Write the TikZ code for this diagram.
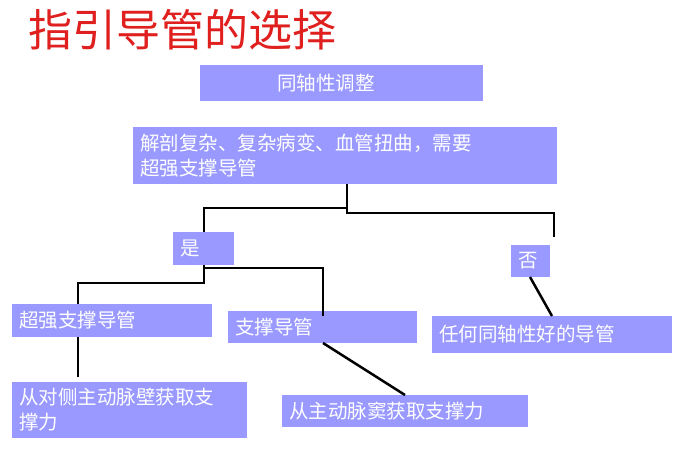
\documentclass[tikz,border=0pt]{standalone}
\usepackage{fontspec}
\setmainfont{Noto Sans CJK SC}
\begin{document}
\begin{tikzpicture}[x=1pt,y=-1pt,
  ln/.style={line width=2.5pt,black}]
\definecolor{boxc}{HTML}{9999FF}
\definecolor{titc}{HTML}{E0201E}
\useasboundingbox[fill=white] (0,0) rectangle (674,456);
\node[anchor=west,text=titc,font=\fontsize{44}{48}\selectfont,inner sep=0pt] (title) at (28,30) {指引导管的选择};
\newcommand{\bx}[6]{\fill[boxc] (#2,#3) rectangle (#4,#5);
  \node[anchor=west,text=white,font=\fontsize{19.5}{25}\selectfont,align=left,inner sep=0pt] (#1) at (#2+7,{(#3+#5)/2}) {#6};}
\fill[boxc] (200,65) rectangle (483,101);
\node[text=white,font=\fontsize{19.5}{22}\selectfont] (b1) at (326,83) {同轴性调整};
\bx{b2}{133}{127}{557}{184}{解剖复杂、复杂病变、血管扭曲，需要\\超强支撑导管}
\bx{yes}{173}{232}{234}{265}{是}
\bx{no}{511}{245}{550}{277}{否}
\bx{s1}{12}{304}{212}{337}{超强支撑导管}
\bx{s2}{228}{311}{417}{343}{支撑导管}
\bx{s3}{432}{316}{672}{353}{任何同轴性好的导管}
\bx{d1}{12}{382}{247}{438}{从对侧主动脉壁获取支\\撑力}
\bx{d2}{282}{395}{528}{427}{从主动脉窦获取支撑力}
\coordinate (a0) at (347,184);
\draw[ln] (a0) -- (347,213) -- (554,213) -- (554,237);
\draw[ln] (347,208) -- (204,208) -- (204,232);
\draw[ln] (204,265) -- (204,283) -- (78,283) -- (78,304);
\draw[ln] (204,268) -- (323,268) -- (323,316);
\draw[ln] (530,277) -- (552,316);
\draw[ln] (323,343) -- (405,395);
\draw[ln] (78,337) -- (78,377);
\end{tikzpicture}
\end{document}
